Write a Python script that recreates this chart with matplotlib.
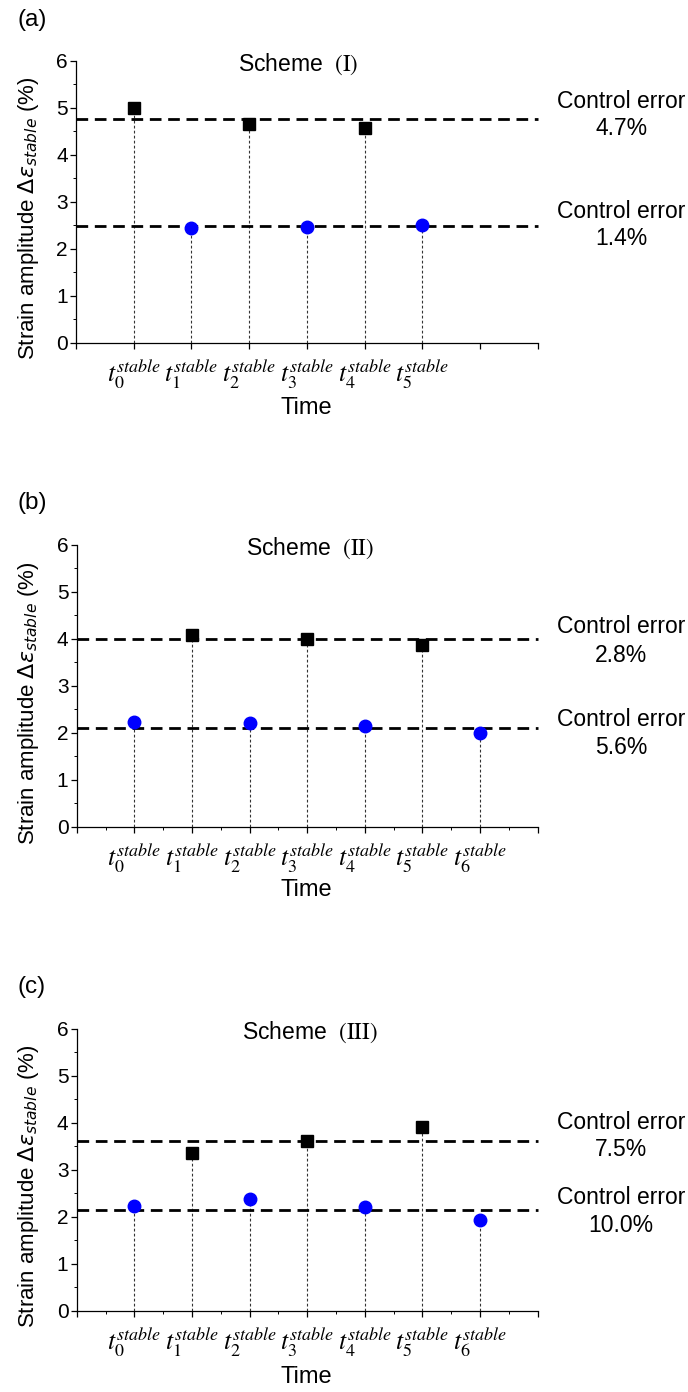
import matplotlib
matplotlib.use("Agg")
import matplotlib.pyplot as plt
from matplotlib.ticker import MultipleLocator

plt.rcParams["font.family"] = ["Liberation Sans", "DejaVu Sans"]

# ---- data ----
panel_letters = ["(a)", "(b)", "(c)"]
scheme_names = ["I", "II", "III"]

# time index of each measurement
times_a = [1, 2, 3, 4, 5, 6]
times_bc = [1, 2, 3, 4, 5, 6, 7]

# panel (a): squares at t0, t2, t4 ; circles at t1, t3, t5
sq_t_a = [1, 3, 5]
sq_v_a = [5.00, 4.65, 4.56]
ci_t_a = [2, 4, 6]
ci_v_a = [2.43, 2.47, 2.50]

# panel (b): squares at t1, t3, t5 ; circles at t0, t2, t4, t6
sq_t_b = [2, 4, 6]
sq_v_b = [4.09, 3.99, 3.86]
ci_t_b = [1, 3, 5, 7]
ci_v_b = [2.24, 2.21, 2.14, 1.99]

# panel (c)
sq_t_c = [2, 4, 6]
sq_v_c = [3.35, 3.62, 3.91]
ci_t_c = [1, 3, 5, 7]
ci_v_c = [2.23, 2.38, 2.20, 1.94]

# mean levels (dashed lines) and control errors
mean_hi = [4.75, 3.99, 3.62]
mean_lo = [2.48, 2.11, 2.14]
err_hi = ["4.7%", "2.8%", "7.5%"]
err_lo = ["1.4%", "5.6%", "10.0%"]

# ---- layout ----
fig = plt.figure(figsize=(6.88, 13.92), dpi=100)
axes_rects = [
    [0.1105, 0.7538, 0.671, 0.2026],
    [0.1115, 0.406, 0.670, 0.2026],
    [0.1115, 0.0584, 0.670, 0.2026],
]
letter_y = [0.9856, 0.6386, 0.291]
xlabel_y = [-0.232, -0.224, -0.234]
scheme_x = [0.481, 0.506, 0.505]
minor_x = [False, True, True]
# y positions (data units) of the "Control error" texts: (hi title, hi pct, lo title, lo pct)
note_y = [
    (5.14, 4.55, 2.79, 2.21),
    (4.26, 3.65, 2.28, 1.69),
    (4.00, 3.42, 2.41, 1.82),
]

panels = [
    (times_a, sq_t_a, sq_v_a, ci_t_a, ci_v_a),
    (times_bc, sq_t_b, sq_v_b, ci_t_b, ci_v_b),
    (times_bc, sq_t_c, sq_v_c, ci_t_c, ci_v_c),
]

for i, (times, sq_t, sq_v, ci_t, ci_v) in enumerate(panels):
    ax = fig.add_axes(axes_rects[i])

    # dotted droplines from the axis to every point
    ax.vlines(sq_t + ci_t, 0, sq_v + ci_v, colors="#333333",
              linestyles=(0, (2.5, 2.0)), linewidth=0.8, zorder=1)

    # mean levels
    ax.axhline(mean_hi[i], color="black", linestyle=(0, (4.2, 2.4)),
               linewidth=2.0, zorder=2, clip_on=False)
    ax.axhline(mean_lo[i], color="black", linestyle=(0, (4.2, 2.4)),
               linewidth=2.0, zorder=2, clip_on=False)

    ax.plot(sq_t, sq_v, "s", color="black", markersize=8.2, zorder=3)
    ax.plot(ci_t, ci_v, "o", color="#0000ff", markersize=9, zorder=3)

    ax.set_xlim(0, 8)
    ax.set_ylim(0, 6)
    ax.spines["top"].set_visible(False)
    ax.spines["right"].set_visible(False)
    ax.spines["left"].set_linewidth(0.9)
    ax.spines["bottom"].set_linewidth(0.9)

    ax.xaxis.set_major_locator(MultipleLocator(1))
    if minor_x[i]:
        ax.xaxis.set_minor_locator(MultipleLocator(0.5))
    ax.yaxis.set_major_locator(MultipleLocator(1))
    ax.yaxis.set_minor_locator(MultipleLocator(0.5))
    ax.tick_params(which="major", direction="out", length=4, width=0.9)
    ax.tick_params(which="minor", direction="out", length=2.2, width=0.7)
    ax.tick_params(axis="y", labelsize=15, pad=2)
    ax.tick_params(axis="x", pad=5.5)

    ticks = list(range(0, 9))
    labels = []
    for t in ticks:
        if t in times:
            labels.append(r"$t_{%d}^{stable}$" % (t - 1))
        else:
            labels.append("")
    ax.set_xticks(ticks)
    ax.set_xticklabels(labels)
    for lab in ax.get_xticklabels():
        lab.set_math_fontfamily("stix")
        lab.set_fontsize(18.5)

    ax.set_xlabel("Time", fontsize=17)
    ax.xaxis.set_label_coords(0.498, xlabel_y[i])
    ax.xaxis.label.set_va("center")

    ylab = ax.set_ylabel(r"Strain amplitude $\Delta\varepsilon_{stable}$ (%)",
                         fontsize=16)
    ylab.set_math_fontfamily("dejavusans")
    ax.yaxis.set_label_coords(-0.104, 0.44)
    ylab.set_va("center")

    st = ax.text(scheme_x[i], 0.988, r"Scheme  $\mathrm{(%s)}$" % scheme_names[i],
                 transform=ax.transAxes, ha="center", va="center", fontsize=16.5)
    st.set_math_fontfamily("stix")

    ny = note_y[i]
    for yy, txt in [(ny[0], "Control error"), (ny[1], err_hi[i]),
                    (ny[2], "Control error"), (ny[3], err_lo[i])]:
        ax.text(9.45, yy, txt, ha="center", va="center", fontsize=16.5,
                clip_on=False)

    fig.text(0.026, letter_y[i], panel_letters[i], fontsize=17.5,
             ha="left", va="center")

fig.savefig("out.png", dpi=100)
